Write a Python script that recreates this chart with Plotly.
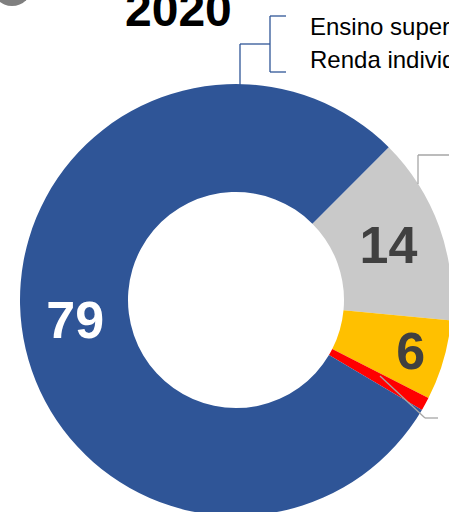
import plotly.graph_objects as go

# Data
categories = ["Cinza", "Amarelo", "Vermelho", "Azul"]
values = [14, 6, 1, 79]
labels_shown = ["14", "6", "", "79"]
colors = ["#C9C9C9", "#FFC000", "#FF0000", "#2F5597"]
text_colors = ["#404040", "#404040", "#404040", "#FFFFFF"]
legend_lines = ["Ensino super", "Renda individ"]
title_text = "2020"

# figure slightly larger than the 449x512 window; the donut runs off the edge
W, H = 460, 524
FONT = "Liberation Sans, Arial, sans-serif"


def px(x):
    return x / W


def py(y):
    return 1 - y / H


fig = go.Figure(
    go.Pie(
        labels=categories,
        values=values,
        text=labels_shown,
        texttemplate="<b>%{text}</b>",
        textposition="inside",
        insidetextorientation="horizontal",
        textfont=dict(family=FONT, size=52, color=text_colors),
        marker=dict(colors=colors, line=dict(width=0)),
        hole=0.5,
        sort=False,
        direction="clockwise",
        rotation=45,
        domain=dict(x=[px(20), px(452)], y=[py(516), py(84)]),
        showlegend=False,
        hoverinfo="label+value",
    )
)

shapes = []
blue = "#2F5597"
grey = "#A6A6A6"
# bracket to legend (blue)
for (x0, y0, x1, y1) in [
    (240, 85, 240, 44),
    (240, 44, 270, 44),
    (270, 16, 270, 72),
    (270, 16, 286, 16),
    (270, 72, 286, 72),
]:
    shapes.append(dict(type="line", xref="paper", yref="paper",
                       x0=px(x0), y0=py(y0), x1=px(x1), y1=py(y1),
                       line=dict(color=blue, width=1.3)))
# grey leader lines
for (x0, y0, x1, y1) in [
    (418, 155, 460, 155),
    (418, 155, 418, 184),
    (380, 376, 425, 418),
    (425, 418, 438, 418),
]:
    shapes.append(dict(type="line", xref="paper", yref="paper",
                       x0=px(x0), y0=py(y0), x1=px(x1), y1=py(y1),
                       line=dict(color=grey, width=1.3)))
# grey circle at corner
shapes.append(dict(type="circle", xref="paper", yref="paper",
                   x0=px(-8), y0=py(-34), x1=px(32), y1=py(6),
                   fillcolor="#7F7F7F", line=dict(width=0)))

annotations = [
    dict(text="<b>" + title_text + "</b>", x=px(178), y=py(27), xref="paper", yref="paper",
         xanchor="center", yanchor="bottom", yshift=-11, showarrow=False,
         font=dict(family=FONT, size=48, color="#000000")),
]
for i, t in enumerate(legend_lines):
    annotations.append(dict(text=t, x=px(308), y=py(26 + 34 * i), xref="paper", yref="paper",
                            xanchor="left", yanchor="middle", showarrow=False,
                            font=dict(family=FONT, size=24, color="#000000")))

fig.update_layout(
    width=W,
    height=H,
    margin=dict(l=0, r=0, t=0, b=0),
    paper_bgcolor="white",
    plot_bgcolor="white",
    shapes=shapes,
    annotations=annotations,
    uniformtext=dict(minsize=52, mode="show"),
    font=dict(family=FONT),
)

fig.write_html(
    "out.html",
    config={"displayModeBar": False},
    post_script="document.body.style.margin='0';document.body.style.overflow='hidden';",
)
